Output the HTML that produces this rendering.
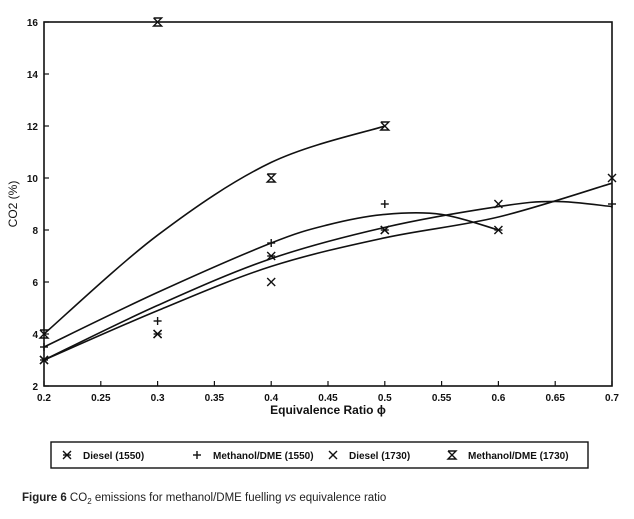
<!DOCTYPE html>
<html><head><meta charset="utf-8"><style>
body{margin:0;background:#fff;width:634px;height:514px;overflow:hidden}
svg text{font-family:"Liberation Sans",sans-serif}
</style></head><body>
<svg id="c" width="634" height="514"></svg>
<script>
const xTicks=[0.2,0.25,0.3,0.35,0.4,0.45,0.5,0.55,0.6,0.65,0.7];
const yTicks=[2,4,6,8,10,12,14,16];
// measured points
const dieselX1550=[0.2,0.3,0.4,0.5,0.6];
const diesel1550=[3,4,7,8,8];
const methX1550=[0.2,0.3,0.4,0.5,0.7];
const meth1550=[3.5,4.5,7.5,9,9];
const dieselX1730=[0.2,0.3,0.4,0.5,0.6,0.7];
const diesel1730=[3,4,6,8,9,10];
const methX1730=[0.2,0.3,0.4,0.5];
const meth1730=[4,16,10,12];
// fitted curves (as drawn in the figure)
const fitX1=[0.2,0.3,0.4,0.45,0.5,0.55,0.6];
const fitA=[3.5,5.6,7.5,8.2,8.6,8.6,8.0];
const fitX2=[0.2,0.3,0.4,0.5,0.6,0.65,0.7];
const fitB=[3,5.1,6.9,8.1,8.9,9.1,8.9];
const fitX3=[0.2,0.3,0.4,0.5,0.6,0.7];
const fitC=[3,4.9,6.6,7.7,8.5,9.8];
const fitX4=[0.2,0.3,0.4,0.5];
const fitD=[4,7.8,10.6,12];
const X0=44,X1=612,Y0=386,Y1=22;
const sx=v=>X0+(v-0.2)/(0.5)*(X1-X0);
const sy=v=>Y0-(v-2)/14*(Y0-Y1);
const svg=document.getElementById('c');
const NS='http://www.w3.org/2000/svg';
function mk(t,a,p){const e=document.createElementNS(NS,t);for(const k in a)e.setAttribute(k,a[k]);(p||svg).appendChild(e);return e;}
const frame=mk('rect',{x:X0,y:Y1,width:X1-X0,height:Y0-Y1,fill:'none',stroke:'#111','stroke-width':1.6});


xTicks.forEach(v=>{const x=sx(v);mk('line',{x1:x,x2:x,y1:Y0,y2:Y0-5,stroke:'#111','stroke-width':1.2});
const t=mk('text',{x:x,y:Y0+15,'font-size':10,'font-weight':'bold','text-anchor':'middle',fill:'#111'});t.textContent=String(v);

});
yTicks.forEach(v=>{const y=sy(v);mk('line',{x1:X0,x2:X0+5,y1:y,y2:y,stroke:'#111','stroke-width':1.2});
const t=mk('text',{x:X0-6,y:y+4,'font-size':10,'font-weight':'bold','text-anchor':'end',fill:'#111'});t.textContent=String(v);

});
const xt=mk('text',{x:328,y:414,'font-size':12,'font-family':'Liberation Serif','font-weight':'bold','text-anchor':'middle',fill:'#111'});xt.textContent='Equivalence Ratio ϕ';


const yt=mk('text',{x:0,y:0,'font-size':12,'text-anchor':'middle',fill:'#111',transform:'translate(17,204) rotate(-90)'});yt.textContent='CO2 (%)';


function marker(type,x,y){const g=mk('g',{stroke:'#111','stroke-width':1.4,fill:'none'});const s=4;
if(type==='ast'||type==='x'){mk('line',{x1:x-s,y1:y-s,x2:x+s,y2:y+s},g);mk('line',{x1:x-s,y1:y+s,x2:x+s,y2:y-s},g);}
if(type==='ast'||type==='plus'){mk('line',{x1:x-s,y1:y,x2:x+s,y2:y},g);}
if(type==='plus'){mk('line',{x1:x,y1:y-s,x2:x,y2:y+s},g);}
if(type==='hg'){mk('path',{d:`M${x-s} ${y-s}H${x+s}L${x-s} ${y+s}H${x+s}L${x-s} ${y-s}`},g);}
return g;}
function curve(name,xs,ys){const P=xs.map((v,i)=>[sx(v),sy(ys[i])]);let d='M'+P[0][0]+' '+P[0][1];
for(let i=0;i<P.length-1;i++){const p0=P[Math.max(0,i-1)],p1=P[i],p2=P[i+1],p3=P[Math.min(P.length-1,i+2)];
const c1=[p1[0]+(p2[0]-p0[0])/6,p1[1]+(p2[1]-p0[1])/6],c2=[p2[0]-(p3[0]-p1[0])/6,p2[1]-(p3[1]-p1[1])/6];
d+=`C${c1[0].toFixed(1)} ${c1[1].toFixed(1)} ${c2[0].toFixed(1)} ${c2[1].toFixed(1)} ${p2[0].toFixed(1)} ${p2[1].toFixed(1)}`;}
const p=mk('path',{d:d,fill:'none',stroke:'#111','stroke-width':1.6});

}
function points(name,xs,ys,type){xs.forEach((v,i)=>{const m=marker(type,sx(v),sy(ys[i]));

});}
curve('fit-curve-a',fitX1,fitA);
curve('fit-curve-b',fitX2,fitB);
curve('fit-curve-c',fitX3,fitC);
curve('fit-curve-d',fitX4,fitD);
points('diesel-1550-point',dieselX1550,diesel1550,'ast');
points('methanol-1550-point',methX1550,meth1550,'plus');
points('diesel-1730-point',dieselX1730,diesel1730,'x');
points('methanol-1730-point',methX1730,meth1730,'hg');
const lg=mk('rect',{x:51,y:442,width:537,height:26,fill:'none',stroke:'#111','stroke-width':1.4});


[['ast',67,'Diesel (1550)'],['plus',197,'Methanol/DME (1550)'],['x',333,'Diesel (1730)'],['hg',452,'Methanol/DME (1730)']].forEach(e=>{
marker(e[0],e[1],455);
const t=mk('text',{x:e[1]+16,y:459,'font-size':10,'font-weight':'bold',fill:'#111'});t.textContent=e[2];

});
const cap=mk('text',{x:22,y:501,'font-size':11.5,fill:'#222'});
cap.innerHTML='<tspan font-weight="bold">Figure 6</tspan>  CO<tspan font-size="8" dy="3">2</tspan><tspan dy="-3"> emissions for methanol/DME fuelling </tspan><tspan font-style="italic">vs</tspan> equivalence ratio';


</script>
</body></html>
